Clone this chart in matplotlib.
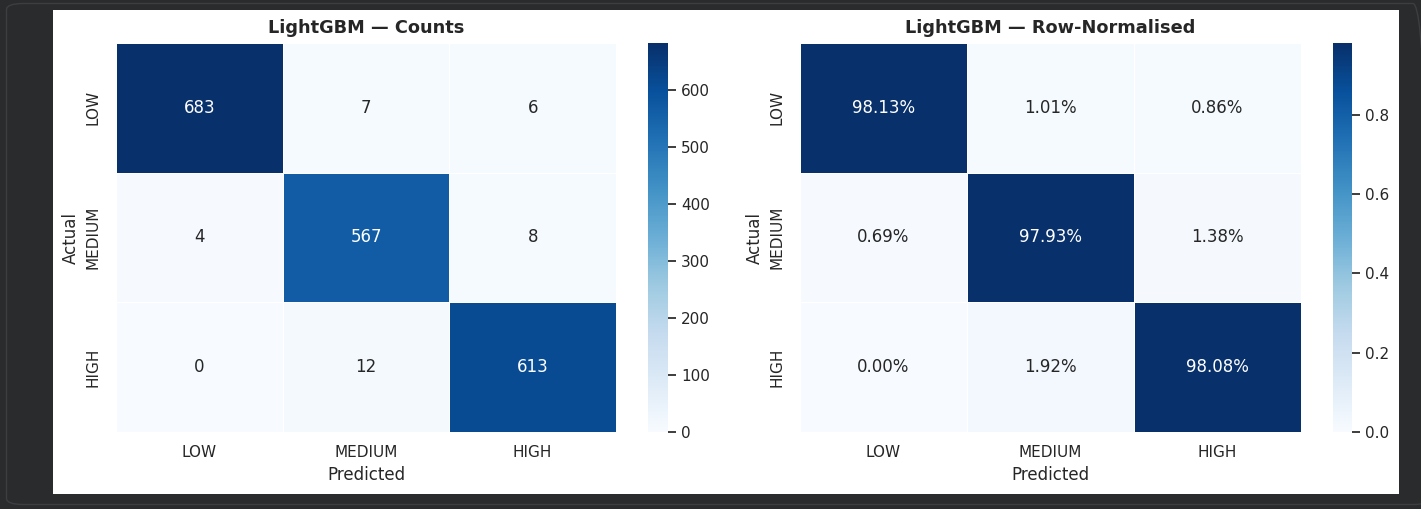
import numpy as np
import matplotlib
matplotlib.use("Agg")
import matplotlib.pyplot as plt
import seaborn as sns
from matplotlib.patches import Rectangle, FancyBboxPatch

sns.set_theme(style="white")
plt.rcParams['font.family'] = ['DejaVu Sans']

# confusion matrix data
labels = ['LOW', 'MEDIUM', 'HIGH']
row_low = [683, 7, 6]
row_medium = [4, 567, 8]
row_high = [0, 12, 613]

cm = np.array([row_low, row_medium, row_high])
cm_norm = cm / cm.sum(axis=1, keepdims=True)

W, H = 1421, 509
fig = plt.figure(figsize=(W / 100, H / 100), dpi=100, facecolor='#2a2b2d')

# screenshot frame outline
fig.patches.append(FancyBboxPatch((6.5 / W, 1 - 504.5 / H), (1430 - 6.5) / W, (504.5 - 3.5) / H,
                                  boxstyle='round,pad=0,rounding_size=0.012',
                                  transform=fig.transFigure, facecolor='none',
                                  edgecolor='#3d3e41', linewidth=1, zorder=-11))
# white panel (the saved figure inside a dark screenshot frame)
fig.patches.append(Rectangle((53 / W, 1 - 494 / H), (1399 - 53) / W, (494 - 10) / H,
                             transform=fig.transFigure, facecolor='white',
                             edgecolor='none', zorder=-10))


def px_axes(x0, y0, x1, y1):
    return fig.add_axes([x0 / W, 1 - y1 / H, (x1 - x0) / W, (y1 - y0) / H])


ax1 = px_axes(116, 43, 616, 432)
cax1 = px_axes(648, 43, 668, 432)
ax2 = px_axes(800, 43, 1301, 432)
cax2 = px_axes(1333, 43, 1352, 432)

ypad = plt.rcParams['ytick.major.pad'] + 1.5

sns.heatmap(cm, annot=True, fmt='d', cmap='Blues', linewidths=0.5,
            xticklabels=labels, yticklabels=labels, ax=ax1, cbar_ax=cax1,
            annot_kws={'fontsize': 12})
ax1.set_title('LightGBM — Counts', fontsize=12.8, fontweight='bold', pad=7.5)
ax1.set_xlabel('Predicted')
ax1.set_ylabel('Actual')
ax1.tick_params(axis='y', pad=ypad)

sns.heatmap(cm_norm, annot=True, fmt='.2%', cmap='Blues', linewidths=0.5,
            xticklabels=labels, yticklabels=labels, ax=ax2, cbar_ax=cax2,
            annot_kws={'fontsize': 12})
ax2.set_title('LightGBM — Row-Normalised', fontsize=12.8, fontweight='bold', pad=7.5)
ax2.set_xlabel('Predicted')
ax2.set_ylabel('Actual')
ax2.tick_params(axis='y', pad=ypad)

fig.savefig('out.png', dpi=100, facecolor=fig.get_facecolor())
